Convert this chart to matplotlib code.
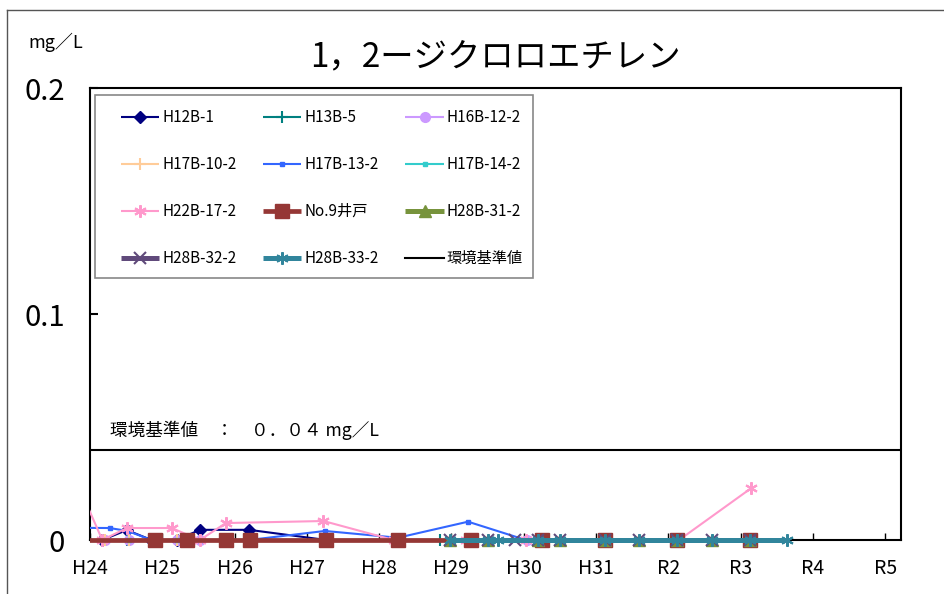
import matplotlib
matplotlib.use("Agg")
import matplotlib.pyplot as plt
from matplotlib.lines import Line2D
from matplotlib.patches import Rectangle
from matplotlib.transforms import Bbox, TransformedBbox

plt.rcParams['font.family'] = ['Noto Sans CJK JP', 'DejaVu Sans']

# x positions are fiscal years counted from the start of H24
year_labels = ["H24", "H25", "H26", "H27", "H28", "H29", "H30", "H31", "R2", "R3", "R4", "R5"]

h12b_1_x = [0.17, 0.51, 0.85, 1.2, 1.52, 2.2, 3.27]
h12b_1_y = [0, 0.0044, 0, 0, 0.0045, 0.0045, 0]

h13b_5_x = [0.17, 0.51, 0.9, 1.2, 1.52, 1.88, 2.2, 3.27, 4.26, 4.84]
h13b_5_y = [0, 0, 0, 0, 0, 0, 0, 0, 0, 0]

h16b_12_2_x = [0.21, 0.54, 1.2, 1.52, 2.2, 3.27, 4.26, 5.27, 6.04]
h16b_12_2_y = [0, 0, 0, 0, 0, 0, 0, 0, 0]

h17b_10_2_x = [0.21, 0.54, 1.2, 1.52, 2.2, 3.27, 4.26]
h17b_10_2_y = [0, 0, 0, 0, 0, 0, 0]

h17b_13_2_x = [-0.2, 0.27, 0.52, 0.85, 1.52, 2.2, 3.25, 4.26, 5.23, 6.03, 7.12, 8.12, 9.13]
h17b_13_2_y = [0.0054, 0.0053, 0.004, 0, 0, 0, 0.004, 0.001, 0.0081, 0, 0, 0, 0]

h17b_14_2_x = [0.21, 0.54, 1.2, 1.52, 2.2, 3.27, 4.26]
h17b_14_2_y = [0, 0, 0, 0, 0, 0, 0]

h22b_17_2_x = [-0.2, 0.17, 0.51, 1.13, 1.52, 1.88, 3.23, 4.2, 5.2, 6.03, 7.12, 8.15, 9.15]
h22b_17_2_y = [0.027, 0, 0.0053, 0.0053, 0, 0.0075, 0.0084, 0, 0, 0, 0, 0, 0.023]

no9_x = [-0.2, 0.9, 1.34, 1.88, 2.21, 3.27, 4.26, 5.27, 6.25, 7.12, 8.12, 9.13]
no9_y = [0, 0, 0, 0, 0, 0, 0, 0, 0, 0, 0, 0]

h28b_31_2_x = [4.98, 5.5, 6.2, 6.5, 7.12, 7.6, 8.12, 8.6, 9.13]
h28b_31_2_y = [0, 0, 0, 0, 0, 0, 0, 0, 0]

h28b_32_2_x = [4.98, 5.5, 5.88, 6.2, 6.5, 7.12, 7.6, 8.12, 8.6, 9.13]
h28b_32_2_y = [0, 0, 0, 0, 0, 0, 0, 0, 0, 0]

h28b_33_2_x = [4.98, 5.5, 5.64, 6.2, 6.5, 7.12, 7.6, 8.12, 8.6, 9.13, 9.64]
h28b_33_2_y = [0, 0, 0, 0, 0, 0, 0, 0, 0, 0, 0]

standard_value = 0.04

asterisk = (6, 2, 0)
series = [
    ("H12B-1", h12b_1_x, h12b_1_y, "#000080", "D", 6, 1.5),
    ("H13B-5", h13b_5_x, h13b_5_y, "#008080", "+", 8, 1.5),
    ("H16B-12-2", h16b_12_2_x, h16b_12_2_y, "#CC99FF", "o", 7, 1.5),
    ("H17B-10-2", h17b_10_2_x, h17b_10_2_y, "#FFCC99", "+", 8, 1.5),
    ("H17B-13-2", h17b_13_2_x, h17b_13_2_y, "#3366FF", "s", 3, 1.5),
    ("H17B-14-2", h17b_14_2_x, h17b_14_2_y, "#33CCCC", "s", 3, 1.5),
    ("H22B-17-2", h22b_17_2_x, h22b_17_2_y, "#FF99CC", asterisk, 9, 1.5),
    ("No.9井戸", no9_x, no9_y, "#953735", "s", 10.5, 3.4),
    ("H28B-31-2", h28b_31_2_x, h28b_31_2_y, "#77933C", "^", 9, 3.6),
    ("H28B-32-2", h28b_32_2_x, h28b_32_2_y, "#604A7B", "x", 8, 3.6),
    ("H28B-33-2", h28b_33_2_x, h28b_33_2_y, "#31859C", asterisk, 9, 3.6),
]

fig = plt.figure(figsize=(9.44, 5.94), dpi=100)
W, H = 944, 594
ax_l, ax_r, ax_t, ax_b = 90, 901, 88, 540
ax = fig.add_axes([ax_l / W, (H - ax_b) / H, (ax_r - ax_l) / W, (ax_b - ax_t) / H])


def px_to_axes(px, py):
    return (px - ax_l) / (ax_r - ax_l), (ax_b - py) / (ax_b - ax_t)


# clip at the left/right edges of the plot but let markers on the zero line
# hang below the bottom spine
clip_box = TransformedBbox(Bbox([[0, -0.1], [1, 1.0]]), ax.transAxes)

handles = []
for name, xs, ys, color, mk, ms, lw in series:
    mew = 1.5 if mk in ("+", "x", asterisk) else 1.0
    ln, = ax.plot(xs, ys, color=color, marker=mk, markersize=ms, linewidth=lw,
                  markeredgecolor=color, markerfacecolor=color, markeredgewidth=mew,
                  label=name, solid_capstyle="butt", zorder=3)
    ln.set_clip_path(None)
    ln.set_clip_box(clip_box)
    handles.append(ln)

std = ax.axhline(standard_value, color="black", linewidth=1.5, label="環境基準値")
handles.append(std)

ax.set_xlim(0, 11.22)
ax.set_ylim(0, 0.2)
ax.set_xticks(range(len(year_labels)))
ax.set_xticklabels(year_labels, fontsize=14)
ax.set_yticks([0, 0.1, 0.2])
ax.set_yticklabels(["0", "0.1", "0.2"], fontsize=21)
ax.tick_params(axis="x", direction="in", length=5, width=1, pad=13)
ax.tick_params(axis="y", direction="in", length=6, width=1.5, pad=18)
for sp in ax.spines.values():
    sp.set_linewidth(1.5)
    sp.set_color("black")

ax.text(0.0247, 0.0487, "環境基準値　：　０．０４ mg／L", transform=ax.get_yaxis_transform(),
        fontsize=12.7, va="center", ha="left")

# legend box drawn as its own rectangle, entries placed inside it
x0, y0 = px_to_axes(95, 278)
x1, y1 = px_to_axes(533, 95)
ax.add_patch(Rectangle((x0, y0), x1 - x0, y1 - y0, transform=ax.transAxes,
                       facecolor="white", edgecolor="#888888", linewidth=1.2, zorder=6))

# legend fills columns first, so reorder to read row by row
order = [0, 3, 6, 9, 1, 4, 7, 10, 2, 5, 8, 11]
leg = ax.legend([handles[i] for i in order], [handles[i].get_label() for i in order],
                ncol=3, loc="upper left", bbox_to_anchor=px_to_axes(121, 109.5),
                fontsize=11, handlelength=2.5, handletextpad=0.2,
                labelspacing=1.95, columnspacing=1.75, borderpad=0, borderaxespad=0,
                frameon=False)
leg.set_zorder(7)

fig.text(495 / W, 1 - 57 / H, "1，2ージクロロエチレン", fontsize=24, ha="center", va="center")
fig.text(28 / W, 1 - 42 / H, "mg／L", fontsize=13, ha="left", va="center")

# outer chart frame
fig.add_artist(Line2D([7 / W, 7 / W], [0, 1 - 10 / H], transform=fig.transFigure,
                      color="#555555", linewidth=1))
fig.add_artist(Line2D([7 / W, 1], [1 - 10 / H, 1 - 10 / H], transform=fig.transFigure,
                      color="#555555", linewidth=1))

fig.savefig("out.png", dpi=100)
